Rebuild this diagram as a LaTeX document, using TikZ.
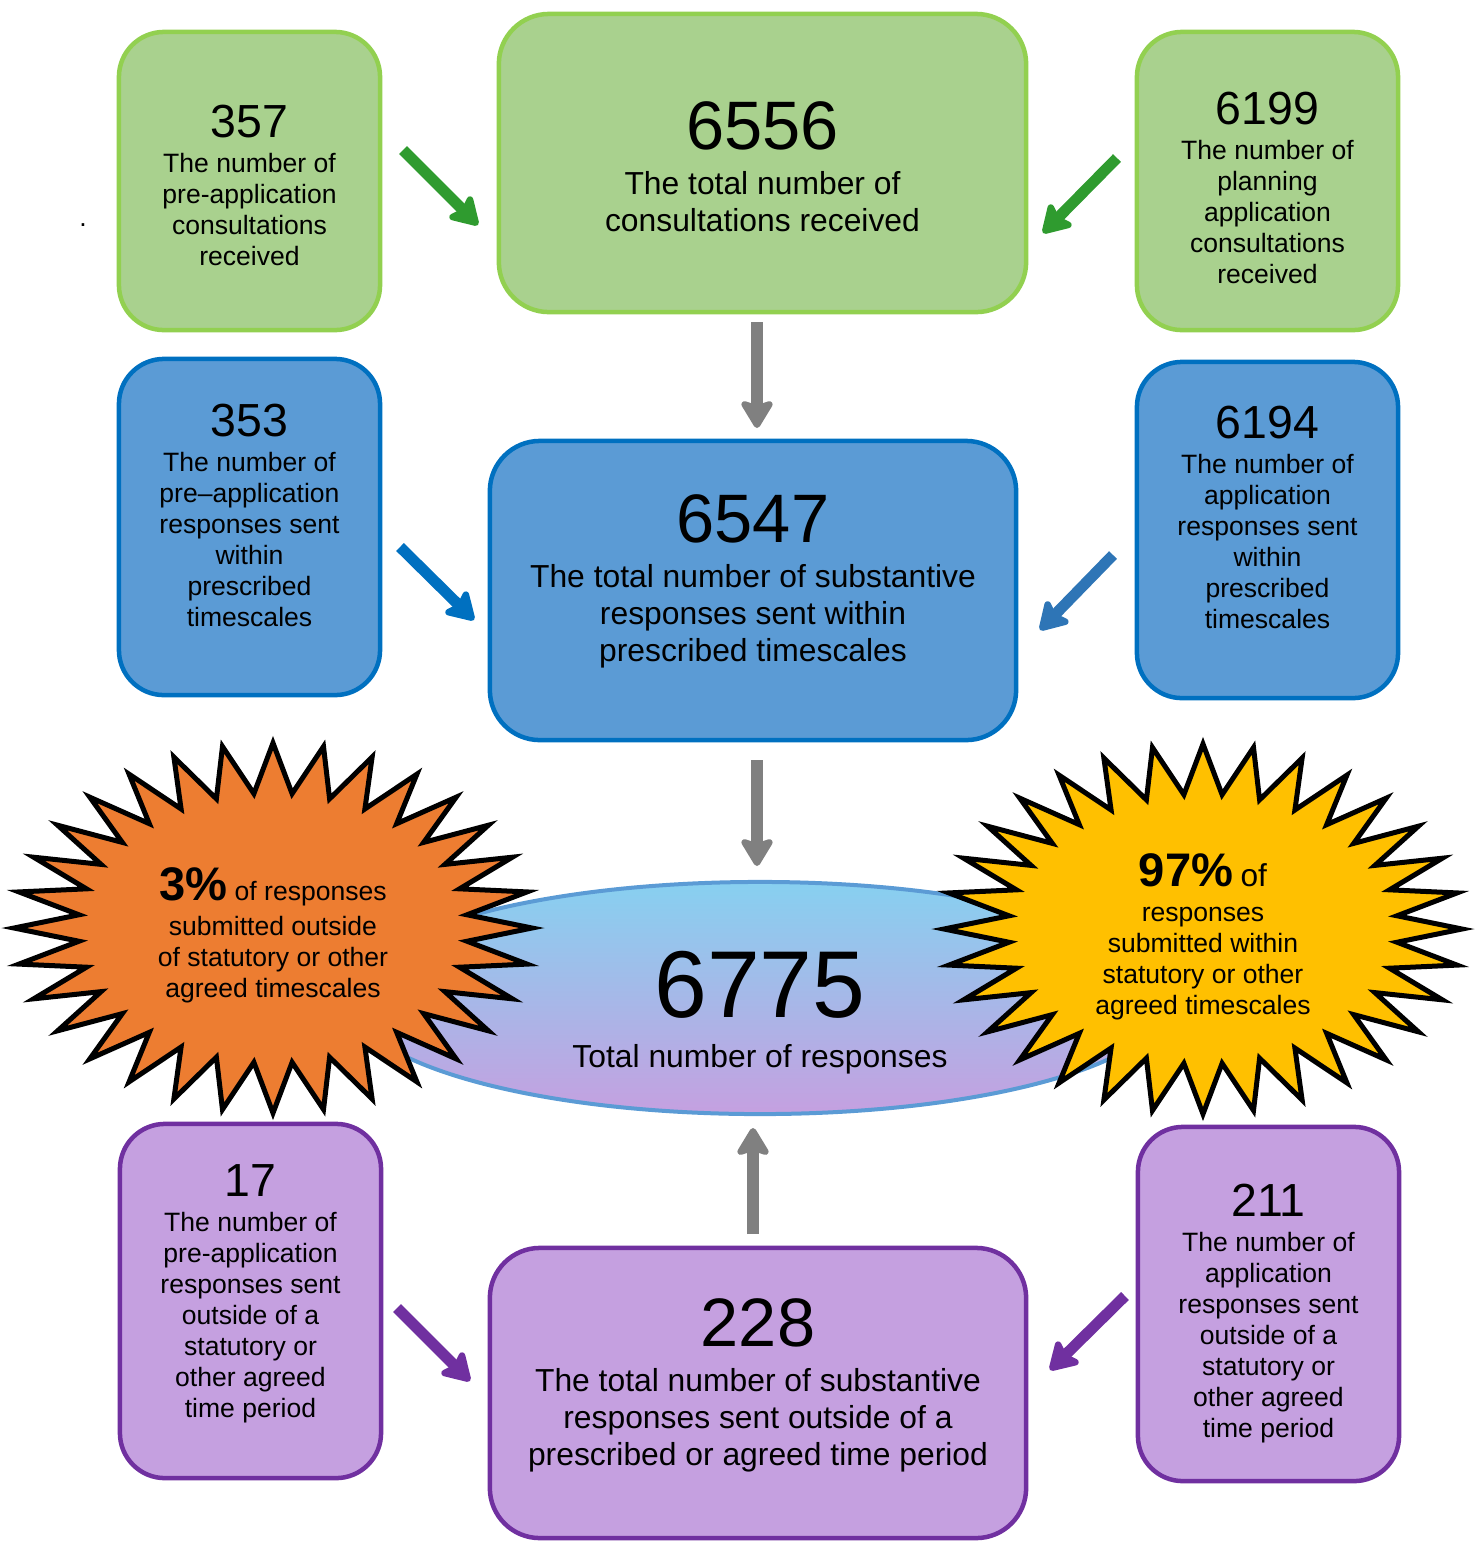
\documentclass[tikz,border=0pt]{standalone}
\usepackage{fontspec}
\setmainfont{Liberation Sans}
\usetikzlibrary{arrows.meta}
\usetikzlibrary{shapes.geometric}
\definecolor{boxgreen}{RGB}{169,209,142}
\definecolor{edgegreen}{RGB}{146,208,80}
\definecolor{arrowgreen}{RGB}{47,155,47}
\definecolor{boxblue}{RGB}{91,155,213}
\definecolor{edgeblue}{RGB}{0,112,192}
\definecolor{arrowblue}{RGB}{46,117,182}
\definecolor{boxpurple}{RGB}{197,160,224}
\definecolor{edgepurple}{RGB}{112,48,160}
\definecolor{burstorange}{RGB}{237,125,49}
\definecolor{burstyellow}{RGB}{255,192,0}
\definecolor{skyblue}{RGB}{135,208,240}
\definecolor{arrowgray}{RGB}{128,128,128}

\newcommand{\smallnum}[1]{{\fontsize{13.2}{16}\selectfont #1}}
\newcommand{\bignum}[1]{{\fontsize{19.5}{22}\selectfont #1}}

\tikzset{
  box/.style={draw, line width=0.045cm, inner sep=0pt},
  side/.style={box, rounded corners=0.45cm, minimum width=2.61cm},
  mid/.style={box, rounded corners=0.5cm},
  greenbox/.style={fill=boxgreen, draw=edgegreen},
  bluebox/.style={fill=boxblue, draw=edgeblue},
  purplebox/.style={fill=boxpurple, draw=edgepurple},
  sidetxt/.style={anchor=north, inner sep=0pt, align=center,
    font=\fontsize{7.55}{8.82}\selectfont},
  midtxt/.style={anchor=north, inner sep=0pt, align=center,
    font=\fontsize{9.05}{10.4}\selectfont},
  txt/.style={font=\fontsize{7.55}{8.82}\selectfont, align=center},
  fat/.style={line width=0.11cm, -{Stealth[round, length=0.32cm, width=0.38cm, inset=0.06cm]}},
  burst/.style={draw=black, line width=0.05cm, line join=miter},
}

\begin{document}
\begin{tikzpicture}[x=0.01cm, y=-0.01cm]
\useasboundingbox (0,0) rectangle (1479,1544);

% consultations
\node[side, greenbox, minimum height=2.98cm] (gpre) at (249.5,181) {};
\node[mid, greenbox, minimum width=5.27cm, minimum height=2.98cm] (gtot) at (762.5,163) {};
\node[side, greenbox, minimum height=2.98cm] (gplan) at (1267.5,181) {};
\node[sidetxt] (gpretxt) at (249.5,104)
  {\smallnum{357}\\[1.2pt] The number of\\ pre-application\\ consultations\\ received};
\node[midtxt] (gtottxt) at (762.5,101)
  {\bignum{6556}\\[2.5pt] The total number of\\ consultations received};
\node[sidetxt] (gplantxt) at (1267.5,91)
  {\smallnum{6199}\\[1.2pt] The number of\\ planning\\ application\\ consultations\\ received};
\node[txt, anchor=base] (dot) at (83,226) {.};

% responses in time
\node[side, bluebox, minimum height=3.36cm] (bpre) at (249.5,527) {};
\node[mid, bluebox, minimum width=5.26cm, minimum height=2.99cm] (btot) at (753,590.5) {};
\node[side, bluebox, minimum height=3.36cm] (bapp) at (1267.5,530) {};
\node[sidetxt] (bpretxt) at (249.5,403)
  {\smallnum{353}\\[1.2pt] The number of\\ pre–application\\ responses sent\\ within\\ prescribed\\ timescales};
\node[midtxt] (btottxt) at (753,494)
  {\bignum{6547}\\[2.5pt] The total number of substantive\\ responses sent within\\ prescribed timescales};
\node[sidetxt] (bapptxt) at (1267.5,405)
  {\smallnum{6194}\\[1.2pt] The number of\\ application\\ responses sent\\ within\\ prescribed\\ timescales};

% responses late
\node[side, purplebox, minimum height=3.54cm] (ppre) at (250.5,1301) {};
\node[mid, purplebox, minimum width=5.36cm, minimum height=2.90cm] (ptot) at (758,1393) {};
\node[side, purplebox, minimum height=3.54cm] (papp) at (1268.5,1304) {};
\node[sidetxt] (ppretxt) at (250.5,1164)
  {\smallnum{17}\\[1.2pt] The number of\\ pre-application\\ responses sent\\ outside of a\\ statutory or\\ other agreed\\ time period};
\node[midtxt] (ptottxt) at (758,1298)
  {\bignum{228}\\[2.5pt] The total number of substantive\\ responses sent outside of a\\ prescribed or agreed time period};
\node[sidetxt] (papptxt) at (1268.5,1183)
  {\smallnum{211}\\[1.2pt] The number of\\ application\\ responses sent\\ outside of a\\ statutory or\\ other agreed\\ time period};

% total
\node[ellipse, draw=boxblue, line width=0.04cm, top color=skyblue, bottom color=boxpurple,
      minimum width=8.2cm, minimum height=2.32cm, inner sep=0pt] (tot) at (760,998) {};
\node[midtxt] (tottxt) at (760,950)
  {{\fontsize{27}{30}\selectfont 6775}\\[4pt] Total number of responses};

% bursts
\draw[burst, fill=burstorange] plot[samples at={0,...,63}, variable=\k]
  ({273+(259-mod(\k,2)*64)*cos(90+5.625*\k)}, {928+(185-mod(\k,2)*50)*sin(90+5.625*\k)}) -- cycle;
\draw[burst, fill=burstyellow] plot[samples at={0,...,63}, variable=\k]
  ({1203+(259-mod(\k,2)*64)*cos(90+5.625*\k)}, {929+(185-mod(\k,2)*50)*sin(90+5.625*\k)}) -- cycle;
\node[txt] (pout) at (273,935)
  {{\fontsize{13.4}{16}\selectfont\bfseries 3\%} of responses\\[1.2pt] submitted outside\\ of statutory or other\\ agreed timescales};
\node[txt] (pin) at (1203,937)
  {{\fontsize{13.4}{16}\selectfont\bfseries 97\%} {\fontsize{9}{10}\selectfont of}\\[1.2pt] responses\\ submitted within\\ statutory or other\\ agreed timescales};

% arrows
\coordinate (a1) at (403,150);  \coordinate (a2) at (478,225);
\coordinate (a3) at (1117,158); \coordinate (a4) at (1043,233);
\coordinate (a5) at (400,547);  \coordinate (a6) at (474,620);
\coordinate (a7) at (1113,555); \coordinate (a8) at (1040,630);
\coordinate (a9) at (397,1308); \coordinate (a10) at (470,1381);
\coordinate (a11) at (1125,1296); \coordinate (a12) at (1050,1370);
\coordinate (d1) at (757,322);  \coordinate (d2) at (757,428);
\coordinate (d3) at (757,760);  \coordinate (d4) at (757,866);
\coordinate (d5) at (753,1234); \coordinate (d6) at (753,1128);

\draw[fat, arrowgreen] (a1) -- (a2);
\draw[fat, arrowgreen] (a3) -- (a4);
\draw[fat, edgeblue] (a5) -- (a6);
\draw[fat, arrowblue] (a7) -- (a8);
\draw[fat, edgepurple] (a9) -- (a10);
\draw[fat, edgepurple] (a11) -- (a12);
\draw[fat, arrowgray] (d1) -- (d2);
\draw[fat, arrowgray] (d3) -- (d4);
\draw[fat, arrowgray] (d5) -- (d6);
\end{tikzpicture}
\end{document}
